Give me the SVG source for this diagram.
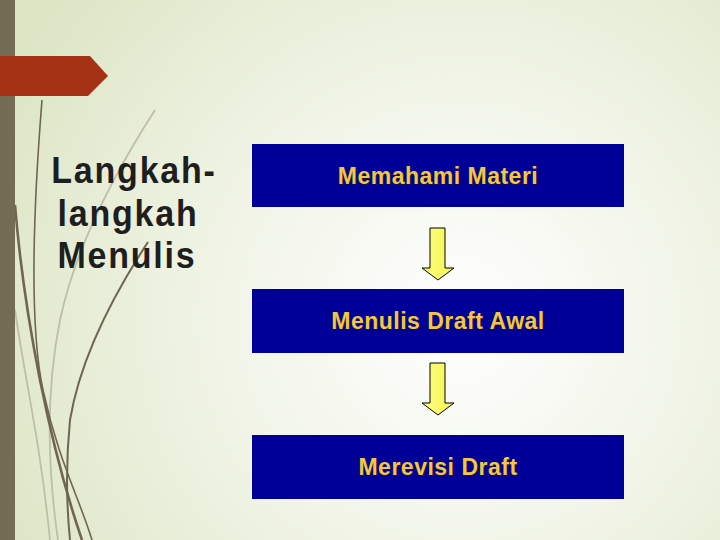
<svg xmlns="http://www.w3.org/2000/svg" width="720" height="540" viewBox="0 0 720 540">
<defs>
<radialGradient id="bg" cx="460" cy="320" r="520" gradientUnits="userSpaceOnUse">
<stop offset="0" stop-color="#ffffff"/>
<stop offset="0.55" stop-color="#eef2e2"/>
<stop offset="1" stop-color="#dce5c4"/>
</radialGradient>
<linearGradient id="arr" x1="0" y1="0" x2="1" y2="0">
<stop offset="0" stop-color="#ffff80"/>
<stop offset="1" stop-color="#f4f455"/>
</linearGradient>
<style>
.box{fill:#000099}
.lbl{font-family:"Liberation Sans",Arial,sans-serif;font-size:23px;font-weight:bold;letter-spacing:0.5px;text-anchor:middle;fill:#f2c744}
.sh{fill:#2a2000;opacity:0.6}
.title{font-family:"Liberation Sans",Arial,sans-serif;font-size:34px;font-weight:bold;letter-spacing:1.8px;text-anchor:middle;fill:#1e1e1e}
.arrow{fill:url(#arr);stroke:#000;stroke-width:1}
.dk{fill:none;stroke:#6e6650}
.lt{fill:none;stroke:#bdbfaa}
</style>
</defs>
<rect width="720" height="540" fill="url(#bg)"/>
<g id="decor">
<path class="lt" stroke-width="1.8" d="M155,110 C110,180 75,250 60,320 C48,380 45,450 58,540"/>
<path class="lt" stroke-width="1.8" d="M15,310 C25,380 40,440 50,540"/>
<path class="dk" stroke-width="1.6" d="M42,100 C34,200 28,320 43,390 S80,500 92,540"/>
<path class="dk" stroke-width="2.6" d="M15,205 Q22,290 40,380 T82,540"/>
<path class="dk" stroke-width="2" d="M148,242 C110,300 80,360 70,420 C66,460 66,500 70,540"/>
<rect x="0" y="0" width="15" height="540" fill="#756c55"/>
<path d="M0,56 L90,56 L108,76 L88,96 L0,96 Z" fill="#a63216"/>
</g>
<g id="title">
<text class="title" transform="translate(134,183) scale(1,1.06)">Langkah-</text>
<text class="title" transform="translate(128,226) scale(1,1.06)">langkah</text>
<text class="title" transform="translate(127,268) scale(1,1.06)">Menulis</text>
</g>
<g id="node1">
<rect class="box" x="252" y="144" width="372" height="63"/>
<text class="lbl sh" x="439" y="185">Memahami Materi</text>
<text class="lbl" x="438" y="184">Memahami Materi</text>
</g>
<g id="node2">
<rect class="box" x="252" y="289" width="372" height="64"/>
<text class="lbl sh" x="439" y="330">Menulis Draft Awal</text>
<text class="lbl" x="438" y="329">Menulis Draft Awal</text>
</g>
<g id="node3">
<rect class="box" x="252" y="435" width="372" height="64"/>
<text class="lbl sh" x="439" y="476">Merevisi Draft</text>
<text class="lbl" x="438" y="475">Merevisi Draft</text>
</g>
<g id="connectors">
<path class="arrow" d="M430,228 L445,228 L445,268 L454,268 L438,280 L422,268 L430,268 Z"/>
<path class="arrow" d="M430,363 L445,363 L445,403 L454,403 L438,415 L422,403 L430,403 Z"/>
</g>
</svg>
